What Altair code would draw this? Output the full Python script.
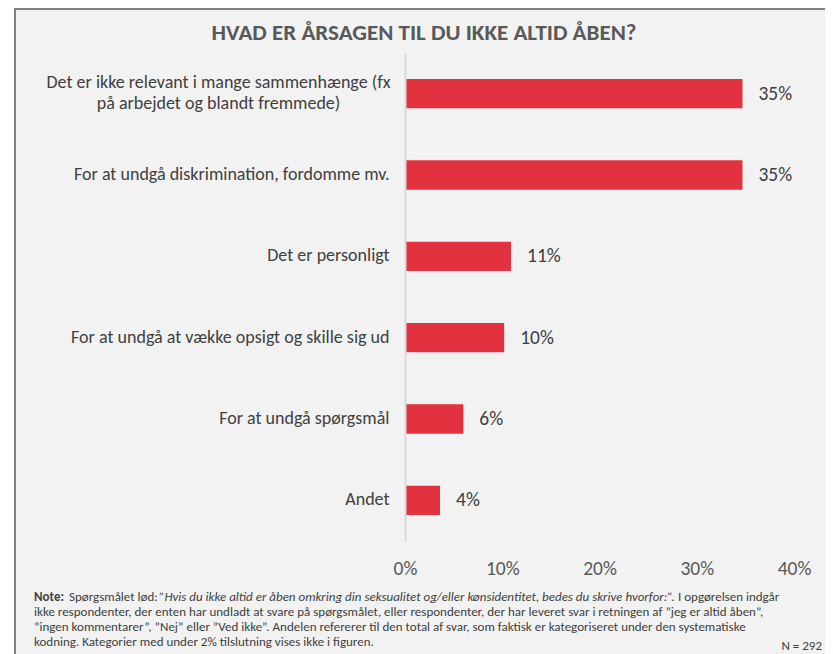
import altair as alt
import pandas as pd

# ---- data ----
categories = [
    "Det er ikke relevant i mange sammenhænge (fx|på arbejdet og blandt fremmede)",
    "For at undgå diskrimination, fordomme mv.",
    "Det er personligt",
    "For at undgå at vække opsigt og skille sig ud",
    "For at undgå spørgsmål",
    "Andet",
]
values = [34.7, 34.7, 10.9, 10.2, 6.0, 3.6]
tick_values = [0, 10, 20, 30, 40]

title_text = "HVAD ER ÅRSAGEN TIL DU IKKE ALTID ÅBEN?"
note_bold = "Note:"
note_l1_regular = "Spørgsmålet lød:"
note_l1_italic = "”Hvis du ikke altid er åben omkring din seksualitet og/eller kønsidentitet, bedes du skrive hvorfor:”."
note_l1_end = "I opgørelsen indgår"
note_lines = [
    "ikke respondenter, der enten har undladt at svare på spørgsmålet, eller respondenter, der har leveret svar i retningen af ”jeg er altid åben”,",
    "”ingen kommentarer”, ”Nej” eller ”Ved ikke”. Andelen refererer til den total af svar, som faktisk er kategoriseret under den systematiske",
    "kodning. Kategorier med under 2% tilslutning vises ikke i figuren.",
]
n_text = "N = 292"

FONT = "Carlito, Lato, sans-serif"
BAR = "#E3323F"
TXT = "#404040"

df = pd.DataFrame({"category": categories, "value": values})
one = pd.DataFrame({"k": [0]})

frame = alt.Chart(one).mark_rect(
    fill="#F2F2F2", stroke="#7F7F7F", strokeWidth=2
).encode(
    x=alt.value(-390), x2=alt.value(600), y=alt.value(-44), y2=alt.value(700)
)

base = alt.Chart(df)

MULTI = "indexof(datum.value, '|') >= 0"

bars = base.mark_bar(color=BAR).encode(
    x=alt.X(
        "value:Q",
        scale=alt.Scale(domain=[0, 40]),
        axis=alt.Axis(
            values=tick_values,
            labelExpr="datum.value + '%'",
            domain=False,
            ticks=False,
            grid=False,
            labelFontSize=19.5,
            labelColor="#595959",
            labelPadding=18,
            labelFlush=False,
            labelFont=FONT,
            title=None,
            zindex=1,
        ),
    ),
    y=alt.Y(
        "category:N",
        sort=categories,
        scale=alt.Scale(paddingInner=0.64, paddingOuter=0.32),
        axis=alt.Axis(
            title=None,
            ticks=False,
            domainColor="#D9D9D9",
            domainWidth=2,
            labelFontSize=18,
            labelColor=TXT,
            labelLimit=600,
            labelFont=FONT,
            labelLineHeight=21,
            labelExpr="split(datum.label, '|')",
            labelAlign={"condition": {"test": MULTI, "value": "center"}, "value": "right"},
            labelPadding={"condition": {"test": MULTI, "value": 187}, "value": 16},
            labelOffset={"condition": {"test": MULTI, "value": -10.5}, "value": 0},
            zindex=1,
        ),
    ),
)

bar_labels = base.transform_calculate(
    lbl="format(datum.value, '.0f') + '%'"
).mark_text(
    align="left", baseline="middle", dx=16, fontSize=19.5, color=TXT, font=FONT
).encode(
    x="value:Q",
    y=alt.Y("category:N", sort=categories),
    text="lbl:N",
)

def txt(text, x, y, size=13, weight="normal", style="normal", color=TXT, align="left"):
    return alt.Chart(one).mark_text(
        text=text, align=align, baseline="middle", fontSize=size,
        fontWeight=weight, fontStyle=style, color=color, font=FONT,
    ).encode(x=alt.value(x), y=alt.value(y))

title = txt(title_text, 19, -20, size=23, weight="bold", color="#595959", align="center")

notes = [
    txt(note_bold, -371, 544, weight="bold"),
    txt(note_l1_regular, -336, 544),
    txt(note_l1_italic, -246, 544, style="italic"),
    txt(note_l1_end, 273, 544),
]
for i, line in enumerate(note_lines):
    notes.append(txt(line, -371, 559 + 15 * i))
notes.append(txt(n_text, 417, 593, size=13, align="right"))

chart = alt.layer(frame, bars, bar_labels, title, *notes).properties(
    width=389,
    height=488,
    padding={"left": 397, "top": 45, "right": 31, "bottom": 113},
    autosize=alt.AutoSizeParams(type="none"),
).configure_view(stroke=None).configure(background="white")

chart.save("out.html", embed_options={"renderer": "svg", "actions": False})
